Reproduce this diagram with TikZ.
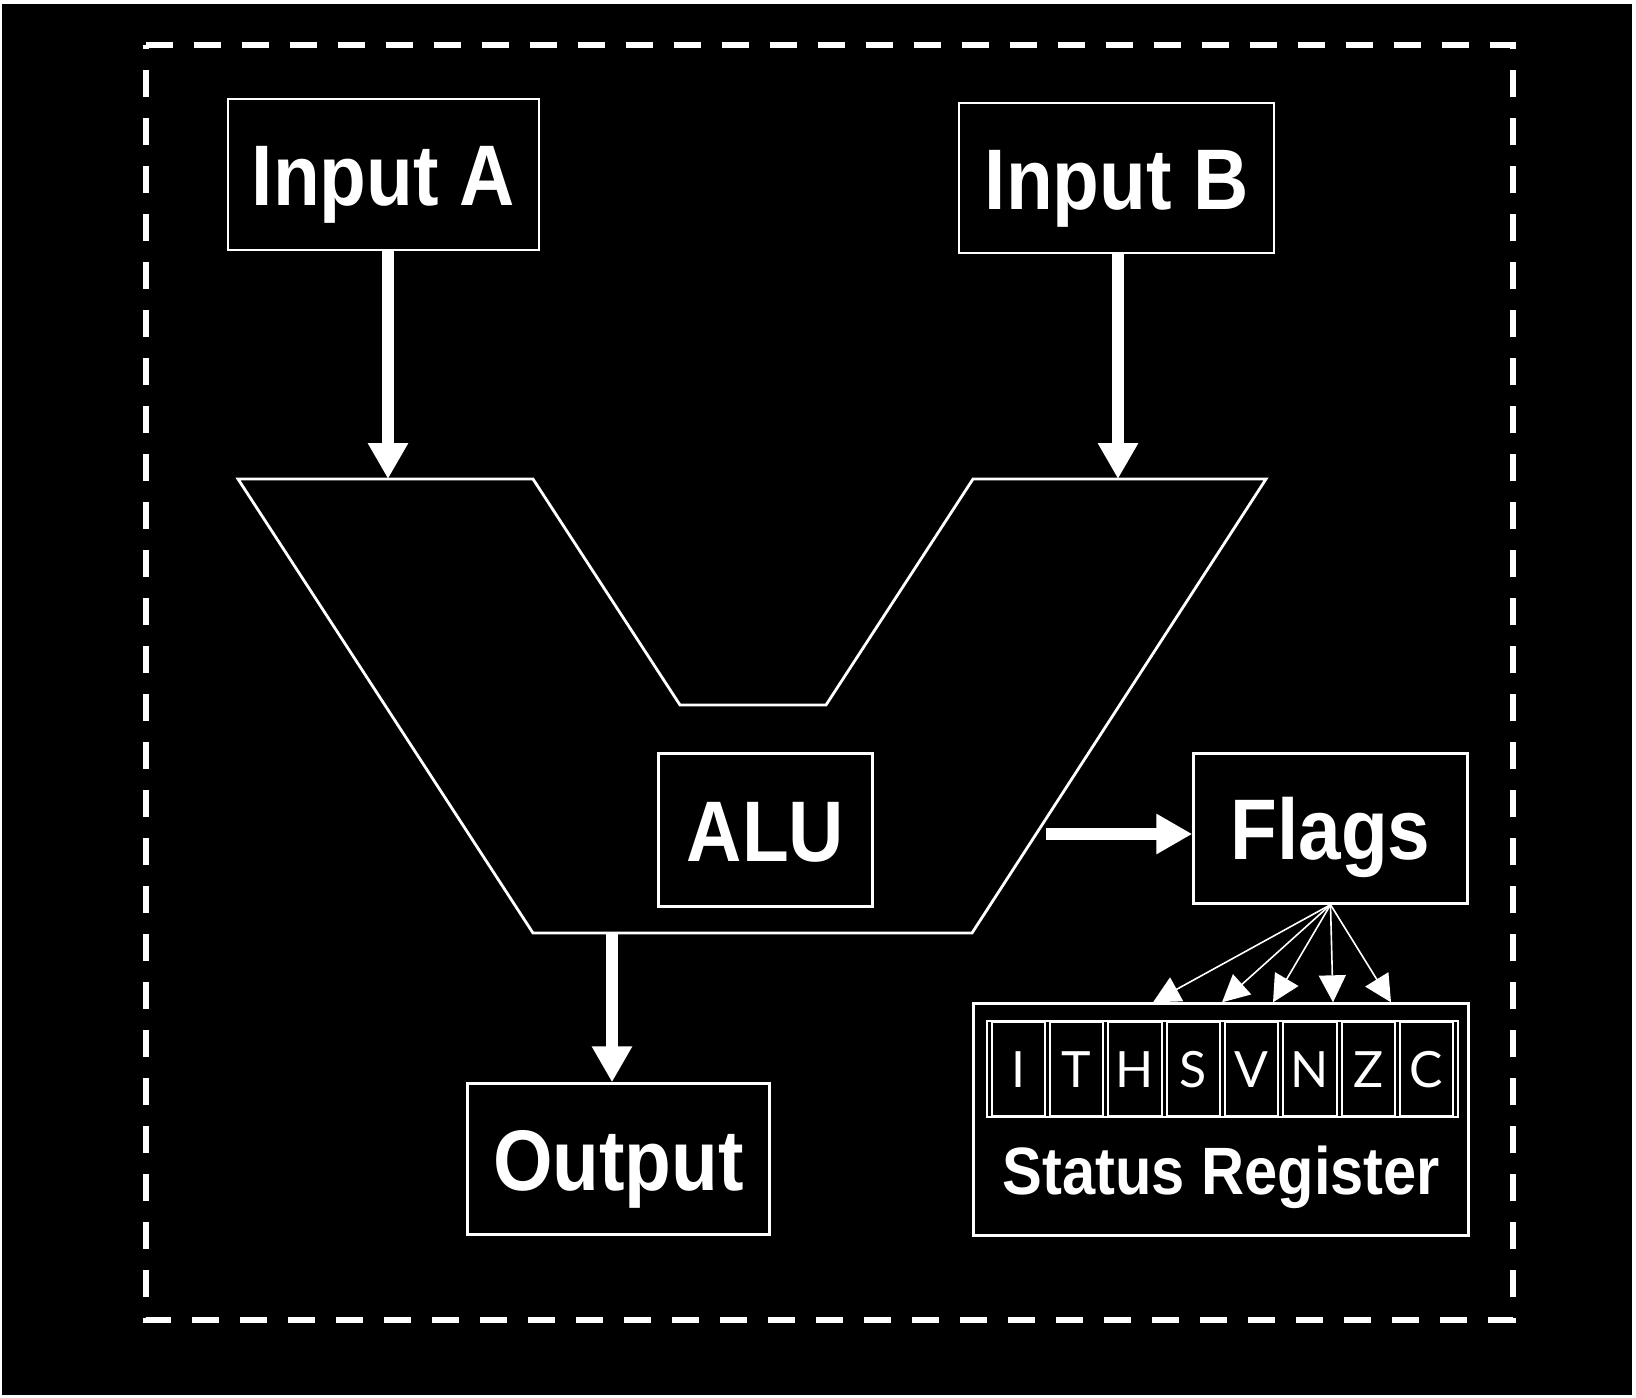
\documentclass[tikz,border=0pt]{standalone}
\usepackage{graphicx}
\usepackage{fontspec}
\setmainfont{Liberation Sans}
\newfontfamily\bitfont{Lato}
\usetikzlibrary{arrows.meta,calc}
\newcommand\sqz[1]{\scalebox{0.89}[1]{#1}}
\begin{document}
\begin{tikzpicture}[x=0.5pt,y=-0.5pt,
  box/.style={draw=white,line width=1.2pt,inner sep=0pt,text=white},
  lbl/.style={font=\fontsize{43pt}{50pt}\selectfont\bfseries,text height=31pt,text depth=0pt},
  bigarrow/.style={draw=white,line width=6pt,-{Triangle[length=18pt,width=19pt]}},
  thinarrow/.style={draw=white,line width=0.8pt,-{Triangle[length=13.5pt,width=13.5pt]}},
  cell/.style={draw=white,line width=1pt,inner sep=0pt,minimum width=26.6pt,minimum height=47pt,text=white,
    font=\bitfont\fontsize{25pt}{30pt}\selectfont,text height=18pt,text depth=0pt},
  alushape/.style={draw=white,line width=1.4pt}]

\fill[white] (0,0) rectangle (1636,1397);
\useasboundingbox (0,0) rectangle (1636,1397);
\fill[black] (2,4) rectangle (1632,1395);
\draw[white,line width=3pt,dash pattern=on 13.5pt off 10.5pt] (146,45) -- (1513,45) -- (1513,1320) -- (146,1320) -- cycle;

% ALU body
\draw[alushape] (238,479) -- (533,479) -- (680,705) -- (826,705) -- (973,479) -- (1266,479) -- (972,933) -- (533,933) -- cycle;
\coordinate (aTop) at (388,479);
\coordinate (bTop) at (1118,479);
\coordinate (oTop) at (612,933);
\coordinate (fOut) at (1046,834);

% boxes
\node[box,lbl,minimum width=155.5pt,minimum height=75.5pt] (inA) at (383.5,174.5) {\sqz{Input A}};
\node[box,lbl,minimum width=157.5pt,minimum height=75pt] (inB) at (1116.5,178) {\sqz{Input B}};
\node[box,lbl,minimum width=107pt,minimum height=76.5pt] (alu) at (765.5,830) {\sqz{ALU}};
\node[box,lbl,minimum width=137pt,minimum height=75pt] (flags) at (1330.5,828.5) {\sqz{Flags}};
\node[box,lbl,minimum width=151pt,minimum height=75.5pt] (out) at (618.5,1159) {\sqz{Output}};
\node[box,minimum width=247.5pt,minimum height=116pt] (sreg) at (1221,1119.5) {};
\node[box,minimum width=235.5pt,minimum height=48pt] (row) at (1222.5,1069) {};

% bits
\foreach \b [count=\k from 0] in {I,T,H,S,V,N,Z,C}{
  \node[cell] (bit\b) at (1018.4+58.3*\k,1069) {\b};
}
\node[text=white,anchor=base,font=\fontsize{33.5pt}{40pt}\selectfont\bfseries] (srtext) at (1221.5,1194) {\sqz{Status Register}};

% connectors
\draw[bigarrow] (inA.south -| aTop) -- (aTop);
\draw[bigarrow] (inB.south -| bTop) -- (bTop);
\draw[bigarrow] (oTop) -- (oTop |- out.north);
\draw[bigarrow] (fOut) -- (fOut -| flags.west);

\coordinate (t1) at (1153,1003);
\coordinate (t2) at (1222,1003);
\coordinate (t3) at (1273,1003);
\coordinate (t4) at (1333,1003);
\coordinate (t5) at (1391,1003);
\foreach \t in {t1,t2,t3,t4,t5}{
  \draw[thinarrow] (flags.south) -- (\t |- sreg.north);
}
\end{tikzpicture}
\end{document}
